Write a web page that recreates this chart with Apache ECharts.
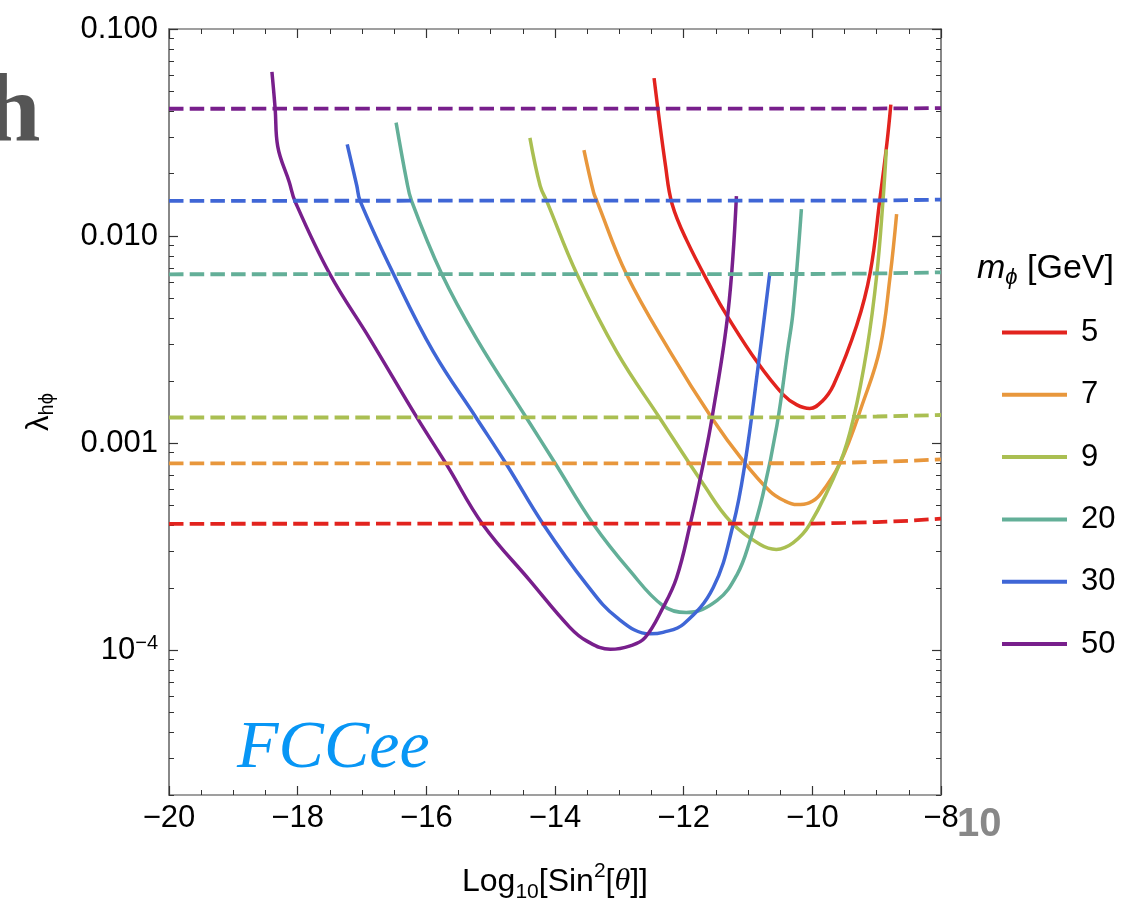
<!DOCTYPE html>
<html>
<head>
<meta charset="utf-8">
<title>FCCee lambda_h_phi</title>
<script src="https://cdn.jsdelivr.net/npm/echarts@6/dist/echarts.min.js"></script>
<style>
  html, body { margin: 0; padding: 0; background: #fff; }
  #fcc-chart { width: 1132px; height: 908px; }
</style>
</head>
<body>
<div id="fcc-chart"></div>
<script>
// solid curves: [log10 sin^2 theta, lambda_h_phi]
var mass5 = [[-12.46, 0.0579], [-12.28, 0.0216], [-12.18, 0.0143], [-11.96, 0.00964], [-11.54, 0.00538],
  [-11.33, 0.00414], [-10.86, 0.00247], [-10.45, 0.00171], [-10.24, 0.00153], [-10.04, 0.00147],
  [-9.85, 0.00159], [-9.67, 0.00191], [-9.31, 0.00371], [-9.10, 0.00668], [-8.95, 0.01507],
  [-8.84, 0.0282], [-8.78, 0.0431]];
var mass7 = [[-13.55, 0.0260], [-13.40, 0.01623], [-13.35, 0.0148], [-12.89, 0.00656], [-12.21, 0.00276],
  [-11.56, 0.00132], [-11.07, 0.000817], [-10.66, 0.000586], [-10.45, 0.000530], [-10.24, 0.000505],
  [-10.05, 0.000515], [-9.88, 0.000564], [-9.57, 0.000802], [-9.21, 0.00158], [-8.95, 0.00286],
  [-8.79, 0.00644], [-8.69, 0.01276]];
var mass9 = [[-14.39, 0.0298], [-14.23, 0.01745], [-14.13, 0.0148], [-13.66, 0.00656], [-13.04, 0.00276],
  [-12.37, 0.00132], [-11.69, 0.000631], [-11.28, 0.000421], [-10.81, 0.000324], [-10.56, 0.000307],
  [-10.30, 0.000330], [-10.04, 0.000405], [-9.57, 0.000802], [-9.36, 0.00132], [-9.15, 0.00286],
  [-9.00, 0.00644], [-8.90, 0.01507], [-8.85, 0.0262]];
var mass20 = [[-16.47, 0.0353], [-16.31, 0.0188], [-16.23, 0.0148], [-15.76, 0.00656], [-15.22, 0.00320],
  [-14.44, 0.00132], [-14.00, 0.000802], [-13.40, 0.000405], [-12.83, 0.000241], [-12.32, 0.000164],
  [-11.96, 0.000152], [-11.48, 0.000174], [-11.17, 0.000232], [-10.97, 0.000338], [-10.77, 0.000562],
  [-10.55, 0.00122], [-10.38, 0.00286], [-10.30, 0.00430], [-10.17, 0.01349]];
var mass30 = [[-17.23, 0.0277], [-17.08, 0.01745], [-17.03, 0.0148], [-16.51, 0.00656], [-15.89, 0.00276],
  [-15.22, 0.00132], [-14.75, 0.000787], [-14.18, 0.000405], [-13.51, 0.000208], [-13.04, 0.000144],
  [-12.52, 0.000120], [-12.32, 0.000122], [-12.00, 0.000134], [-11.54, 0.000201], [-11.23, 0.000405],
  [-11.05, 0.000787], [-10.84, 0.00238], [-10.66, 0.00668]];
var mass50 = [[-18.40, 0.0621], [-18.35, 0.0412], [-18.31, 0.0271], [-18.13, 0.0182], [-18.04, 0.0147],
  [-17.50, 0.00656], [-16.88, 0.00320], [-16.14, 0.00132], [-15.68, 0.000783], [-15.12, 0.000404],
  [-14.39, 0.000217], [-13.77, 0.000129], [-13.51, 0.000111], [-13.14, 0.000101], [-12.83, 0.000105],
  [-12.60, 0.000115], [-12.32, 0.000161], [-12.11, 0.000224], [-11.90, 0.000404], [-11.70, 0.000783],
  [-11.56, 0.00132], [-11.31, 0.00430], [-11.18, 0.0156]];

// dashed limits
var limit5 = [[-20, 0.000408], [-10, 0.000409], [-9.5, 0.000412], [-9, 0.000416], [-8.5, 0.000422], [-8, 0.000432]];
var limit7 = [[-20, 0.000798], [-10, 0.000800], [-9.5, 0.000805], [-9, 0.000812], [-8.5, 0.000822], [-8, 0.000836]];
var limit9 = [[-20, 0.00133], [-10, 0.001332], [-9, 0.001345], [-8, 0.001368]];
var limit20 = [[-20, 0.00654], [-10, 0.00656], [-9, 0.0066], [-8, 0.00668]];
var limit30 = [[-20, 0.0148], [-9, 0.01485], [-8, 0.0150]];
var limit50 = [[-20, 0.0412], [-9, 0.0413], [-8, 0.0415]];

var massLabels = ['5', '7', '9', '20', '30', '50'];
var massColors = ['#E2231E', '#E8973C', '#AABF52', '#63AF98', '#3F66D6', '#781F8C'];
var yMajorTicks = [1e-4, 1e-3, 1e-2, 1e-1];
var yMinorTicks = [];
for (var k = -5; k <= -2; k++) {
  for (var m = 2; m <= 9; m++) {
    var v = Number((m * Math.pow(10, k)).toPrecision(3));
    if (v >= 2e-5 && v < 0.1) yMinorTicks.push(v);
  }
}

var FONT = 'Liberation Sans';
var chart = echarts.init(document.getElementById('fcc-chart'));

function yLabel(v) {
  var e = Math.round(Math.log10(v));
  if (e >= -3) return v.toFixed(3);
  return '{b|10}{sup|\u2212' + (-e) + '}';
}
function xLabel(v) {
  return v < 0 ? '\u2212' + Math.abs(v) : String(v);
}

function xAxisFor(pos) {
  return {
    type: 'value', position: pos, min: -20, max: -8, interval: 2,
    axisLine: { lineStyle: { color: '#808080', width: 1.5 } },
    axisTick: { inside: true, length: 9, lineStyle: { color: '#333', width: 1.2 } },
    minorTick: { show: true, splitNumber: 4, length: 5, lineStyle: { color: '#333', width: 1 } },
    splitLine: { show: false },
    axisLabel: {
      show: pos === 'bottom', fontFamily: FONT, fontSize: 31, color: '#000', margin: 8,
      formatter: xLabel
    }
  };
}
function yAxisFor(pos, major) {
  return {
    type: 'log', logBase: 10, position: pos, min: 2e-5, max: 0.1,
    axisLine: { show: true, lineStyle: { color: '#808080', width: 1.5 } },
    axisTick: {
      inside: true, length: major ? 9 : 5,
      customValues: major ? yMajorTicks : yMinorTicks,
      lineStyle: { color: '#333', width: major ? 1.2 : 1 }
    },
    splitLine: { show: false },
    axisLabel: {
      show: major && pos === 'left', customValues: yMajorTicks, formatter: yLabel,
      fontFamily: FONT, fontSize: 31, color: '#000', margin: 11,
      rich: {
        b: { fontFamily: FONT, fontSize: 31, color: '#000', lineHeight: 34 },
        sup: { fontFamily: FONT, fontSize: 20, color: '#000', lineHeight: 16, verticalAlign: 'top' }
      }
    }
  };
}

var xAxes = [xAxisFor('bottom'), xAxisFor('top')];
xAxes[0].name = '{t|Log}{sub|10}{t|[Sin}{sup|2}{t|[}{it|\u03B8}{t|]]}';
xAxes[0].nameLocation = 'middle';
xAxes[0].nameGap = 66;
xAxes[0].nameTextStyle = {
  rich: {
    t: { fontFamily: FONT, fontSize: 32, color: '#000', lineHeight: 42 },
    it: { fontFamily: 'Liberation Serif', fontStyle: 'italic', fontSize: 32, color: '#000', lineHeight: 42 },
    sub: { fontFamily: FONT, fontSize: 21, color: '#000', lineHeight: 18, verticalAlign: 'bottom' },
    sup: { fontFamily: FONT, fontSize: 21, color: '#000', lineHeight: 18, verticalAlign: 'top' }
  }
};

var yAxes = [yAxisFor('left', true), yAxisFor('left', false), yAxisFor('right', true), yAxisFor('right', false)];
yAxes[0].name = '{l|\u03BB}{sub|h\u03D5}';
yAxes[0].nameLocation = 'middle';
yAxes[0].nameGap = 112;
yAxes[0].nameTextStyle = {
  rich: {
    l: { fontFamily: FONT, fontSize: 31, color: '#000', lineHeight: 36 },
    sub: { fontFamily: FONT, fontSize: 20, color: '#000', lineHeight: 18, verticalAlign: 'bottom' }
  }
};

var solids = [mass5, mass7, mass9, mass20, mass30, mass50];
var limits = [limit5, limit7, limit9, limit20, limit30, limit50];
var series = [];
solids.forEach(function (d, i) {
  series.push({
    name: massLabels[i], type: 'line', data: d, symbol: 'none', smooth: 0.4,
    lineStyle: { color: massColors[i], width: 3.5 }, itemStyle: { color: massColors[i] }
  });
});
limits.forEach(function (d, i) {
  series.push({
    name: 'limit ' + massLabels[i], type: 'line', data: d, symbol: 'none',
    lineStyle: { color: massColors[i], width: 3.8, type: [14.5, 6.2] }
  });
});

var option = {
  animation: false,
  backgroundColor: '#fff',
  grid: { left: 169, right: 191, top: 29, bottom: 109 },
  xAxis: xAxes,
  yAxis: yAxes,
  legend: {
    data: massLabels, orient: 'vertical', left: 997, top: 312, icon: 'rect',
    itemWidth: 65, itemHeight: 4, itemGap: 31.3, selectedMode: false,
    textStyle: { fontFamily: FONT, fontSize: 31, color: '#000', lineHeight: 30, padding: [0, 0, 0, 9] }
  },
  graphic: [
    {
      type: 'text', left: 977, top: 252,
      style: {
        text: '{m|m}{s|\u03D5}{t| [GeV]}',
        rich: {
          m: { fontFamily: FONT, fontStyle: 'italic', fontSize: 34, fill: '#000', lineHeight: 40 },
          s: { fontFamily: FONT, fontStyle: 'italic', fontSize: 22, fill: '#000', lineHeight: 20, verticalAlign: 'bottom' },
          t: { fontFamily: FONT, fontSize: 34, fill: '#000', lineHeight: 40 }
        }
      }
    },
    {
      type: 'text', left: 237, top: 715,
      style: { text: 'FCCee', fontFamily: 'Liberation Serif', fontStyle: 'italic', fontSize: 68, fill: '#0896F5' }
    },
    {
      type: 'text', left: -14, top: 67,
      style: { text: 'h', fontFamily: 'Liberation Serif', fontWeight: 'bold', fontSize: 98, fill: '#555' }
    },
    {
      type: 'text', left: 957, top: 805,
      style: { text: '10', fontFamily: 'Liberation Sans', fontWeight: 'bold', fontSize: 40, fill: '#888' }
    }
  ],
  series: series
};

chart.setOption(option);
window.addEventListener('resize', function () {
  chart.resize();
});
</script>
</body>
</html>
